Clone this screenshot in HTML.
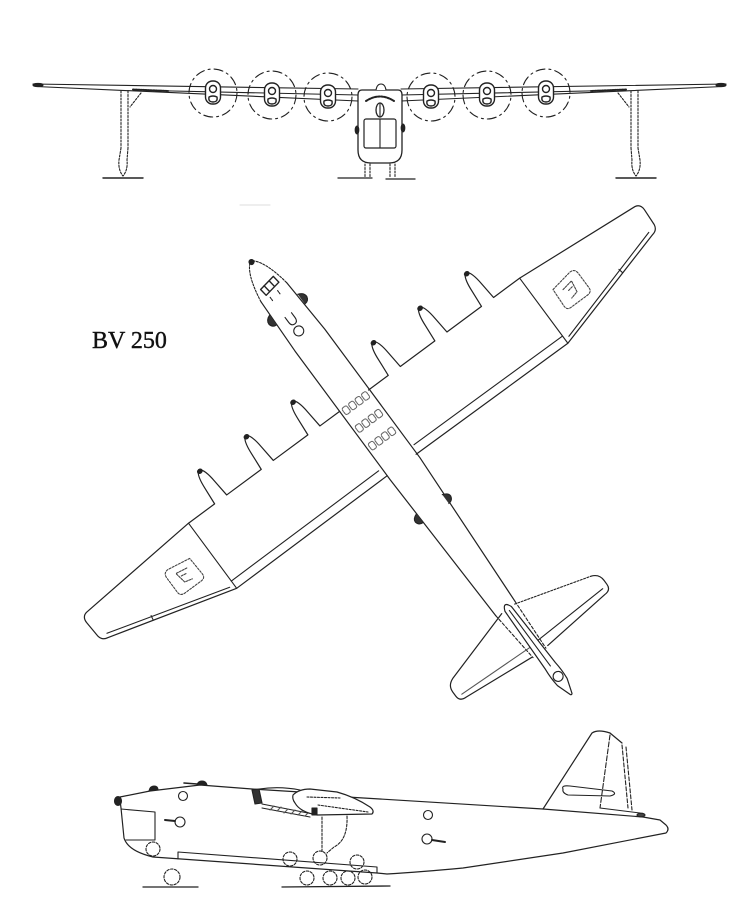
<!DOCTYPE html>
<html><head><meta charset="utf-8">
<style>html,body{margin:0;padding:0;background:#fff;}svg{display:block}</style>
</head>
<body>
<svg width="750" height="922" viewBox="0 0 750 922" xmlns="http://www.w3.org/2000/svg">
<rect width="750" height="922" fill="#fff"/>
<g fill="none" stroke="#222" stroke-width="1.1" stroke-linejoin="round" stroke-linecap="round">

<!-- ================= FRONT VIEW ================= -->
<g id="fvl">
  <path d="M33,84 L358,89"/>
  <path d="M36,86.5 L358,101"/>
  <path d="M150,90.5 L358,95"/>
  <ellipse cx="38" cy="85" rx="5" ry="1.6" fill="#222"/>
  <path d="M133,89.5 L168,91" stroke-dasharray="1.5 1" stroke-width="2"/>
  <!-- float strut -->
  <path d="M121,91 L121,148 M128,91 L128,148" stroke-dasharray="2 1.5"/>
  <path d="M121,148 L119,160 Q118,170 123,176 Q128,170 127,160 L128,148" stroke-dasharray="2 1.5"/>
  <path d="M141,93 L130,107" stroke-dasharray="2 1.5"/>
  <path d="M103,178 L143,178" stroke-width="1.4"/>
  <!-- propellers -->
  <circle cx="213" cy="93" r="24" stroke-dasharray="9 4 2 4"/>
  <circle cx="272" cy="95" r="24" stroke-dasharray="9 4 2 4"/>
  <circle cx="328" cy="97" r="24" stroke-dasharray="9 4 2 4"/>
  <!-- nacelles -->
  <g stroke-width="1.4">
    <rect x="205.5" y="81" width="15" height="23" rx="7" fill="#fff"/>
    <circle cx="213" cy="89" r="3.5"/>
    <path d="M209,97 Q213,95 217,97 Q218,102 213,102 Q208,102 209,97 Z"/>
    <rect x="264.5" y="83" width="15" height="23" rx="7" fill="#fff"/>
    <circle cx="272" cy="91" r="3.5"/>
    <path d="M268,99 Q272,97 276,99 Q277,104 272,104 Q267,104 268,99 Z"/>
    <rect x="320.5" y="85" width="15" height="23" rx="7" fill="#fff"/>
    <circle cx="328" cy="93" r="3.5"/>
    <path d="M324,101 Q328,99 332,101 Q333,106 328,106 Q323,106 324,101 Z"/>
  </g>
</g>
<use href="#fvl" transform="translate(759,0) scale(-1,1)"/>

<!-- fuselage front -->
<path d="M362,90 L398,90 Q402,90 402,95 L402,150 Q402,163 389,163 L371,163 Q358,163 358,150 L358,95 Q358,90 362,90 Z" fill="#fff" stroke-width="1.3"/>
<path d="M376,90 Q377,84 381,84 Q385,84 386,90" fill="#fff"/>
<path d="M366,101 Q380,92 394,101" stroke-dasharray="2 1.2" stroke-width="2"/>
<ellipse cx="380" cy="110" rx="4" ry="7" stroke-width="1.3"/>
<path d="M380,104 L380,116"/>
<rect x="364" y="119" width="32" height="29" rx="2" stroke-width="1.2"/>
<path d="M380,119 L380,148"/>
<ellipse cx="357" cy="130" rx="1.8" ry="4" fill="#222"/>
<ellipse cx="403" cy="128" rx="1.8" ry="4" fill="#222"/>
<path d="M365,164 L365,178 M370,164 L370,178 M390,164 L390,178 M395,164 L395,178" stroke-dasharray="2 1.5"/>
<path d="M338,178 L372,178 M386,179 L415,179" stroke-width="1.3"/>

<!-- faint mark -->
<path d="M240,205 L270,205" stroke="#ddd"/>

<!-- ================= PLAN VIEW ================= -->
<g transform="translate(250,260) rotate(-36.5)">
  <g id="rwing">
    <path d="M18,175 L42.5,175 L44,157 Q45,141 50,138 Q55,141 56,157 L57.5,175 L100.5,175 L102,157 Q103,141 108,138 Q113,141 114,157 L115.5,175 L158.5,175 L160,157 Q161,141 166,138 Q171,141 172,157 L173.5,175 L206,175 L341,186 Q347,187 347,194 L346,212 Q345,218 339,219 L206,256 L18,255" stroke-width="1.2"/>
    <ellipse cx="50" cy="140" rx="2.5" ry="2" fill="#222"/>
    <ellipse cx="108" cy="140" rx="2.5" ry="2" fill="#222"/>
    <ellipse cx="166" cy="140" rx="2.5" ry="2" fill="#222"/>
    <path d="M22,246 L206,247"/>
    <path d="M206,175 L206,256"/>
    <path d="M211,251 L337,215"/>
    <path d="M292,232 L291,227"/>
    <path d="M226,204 L250,200 Q256,200 256,206 L256,224 Q256,229 250,229 L230,229 Q225,229 225,224 Z" stroke-dasharray="2 1.5" stroke="#444"/>
    <path d="M234,210 L246,208 L244,220 L236,222 M238,214 L244,213" stroke-dasharray="2 1.2" stroke="#444"/>
  </g>
  <use href="#rwing" transform="scale(-1,1)"/>

  <!-- fuselage -->
  <path d="M-16,40 L-18,100 L-18,260 L-14,432" stroke-width="1.2"/>
  <path d="M16,40 L19,100 L19,260 L10,432" stroke-width="1.2"/>
  <path d="M-14,432 L-9,488 M10,432 L7,488" stroke-dasharray="3 2"/>
  <path d="M-16,40 Q-11,8 0,1 Q11,8 16,40" stroke-dasharray="2 1.5"/>
  <circle cx="0" cy="2.5" r="2.5" fill="#222"/>
  <!-- cockpit -->
  <path d="M-9,30 L9,27 M-9,30 L-8,38 M9,27 L10,35 M-8,38 L10,35 M-4,29 L-3,37 M3,28 L4,36" stroke-width="1.4"/>
  <path d="M-6,42 L-6,47 M4,41 L4,46" stroke-dasharray="1.5 1"/>
  <!-- blisters -->
  <path d="M-17,56 Q-23,58 -23,63 Q-22,68 -17,68" fill="#333"/>
  <path d="M18,56 Q24,58 24,63 Q23,68 18,68" fill="#333"/>
  <path d="M-17,303 Q-23,305 -23,309 Q-22,314 -17,314" fill="#333"/>
  <path d="M15,303 Q21,305 21,309 Q20,314 15,314" fill="#333"/>
  <!-- U + circle -->
  <path d="M-6,67 L-6,73 Q-6,78 -2,78 Q2,78 2,73 L2,67"/>
  <circle cx="-3" cy="86" r="5"/>
  <!-- windows -->
  <g stroke="#666" stroke-dasharray="1.5 1">
    <rect x="-15" y="174" width="6" height="8" rx="2"/><rect x="-7" y="174" width="6" height="8" rx="2"/>
    <rect x="1" y="174" width="6" height="8" rx="2"/><rect x="9" y="174" width="6" height="8" rx="2"/>
    <rect x="-15" y="196" width="6" height="8" rx="2"/><rect x="-7" y="196" width="6" height="8" rx="2"/>
    <rect x="1" y="196" width="6" height="8" rx="2"/><rect x="9" y="196" width="6" height="8" rx="2"/>
    <rect x="-15" y="218" width="6" height="8" rx="2"/><rect x="-7" y="218" width="6" height="8" rx="2"/>
    <rect x="1" y="218" width="6" height="8" rx="2"/><rect x="9" y="218" width="6" height="8" rx="2"/>
  </g>
  <!-- tailplane -->
  <path d="M-8,434 L-86,457 Q-94,460 -94,468 L-94,473 Q-94,480 -86,480 L-10,487" stroke-width="1.2"/>
  <path d="M8,434 L86,457" stroke-dasharray="2 1.5"/>
  <path d="M86,457 Q94,460 94,468 L94,473 Q94,480 86,480 L10,487" stroke-width="1.2"/>
  <path d="M5,477 L88,474"/>
  <path d="M-5,478 L-88,475" stroke="#555"/>
  <!-- fin / tail cone -->
  <path d="M-4,434 Q0,424 4,434 L6,505 Q7,515 6,525 L1,540 Q0,541 -1,540 L-6,525 Q-7,515 -6,505 Z" fill="#fff" stroke-width="1.2"/>
  <path d="M0,436 L0,505"/>
  <circle cx="0" cy="518" r="5"/>
</g>

<!-- ================= SIDE VIEW ================= -->
<path d="M120,797 L150,791 L200,785 L252,789 L300,792 L347,797" stroke-width="1.2"/>
<path d="M120,800 L121,808 L124,838 Q128,851 153,857 L377,873 L387,874 Q420,872 463,868 L563,853 L666,833 Q670,829 666,825 L660,820 L643,817 L543,809 L347,797" stroke-width="1.2"/>
<path d="M121,809 L155,812 L155,840 L126,840"/>
<path d="M178,859 L178,852 L377,867 L377,873"/>
<ellipse cx="118" cy="801" rx="3.5" ry="4.5" fill="#222"/>
<path d="M149,791 Q150,786 154,786 Q158,786 158,790" fill="#222"/>
<path d="M197,785 Q198,781 202,781 Q206,781 207,785" fill="#222"/>
<path d="M184,783 L197,784" stroke-width="1.5"/>
<circle cx="183" cy="796" r="4.5"/>
<circle cx="428" cy="815" r="4.5"/>
<circle cx="180" cy="822" r="5"/>
<path d="M165,820 L175,821" stroke-width="2"/>
<circle cx="427" cy="839" r="5"/>
<path d="M432,840 L445,842" stroke-width="2"/>
<!-- wing / nacelle -->
<path d="M252,790 L259,789 L262,803 L255,804 Z" fill="#333"/>
<path d="M259,789 Q280,786 300,790"/>
<path d="M262,804 L313,814"/>
<path d="M262,808 L310,817"/>
<path d="M270,810 L274,806 M277,811 L281,807 M284,813 L288,809 M291,814 L295,810 M298,815 L302,811 M305,816 L309,812" stroke="#555"/>
<path d="M293,795 Q299,789 310,789 L337,792 Q355,797 370,807 Q375,811 372,814 L317,815 Q300,812 295,803 Q292,799 293,795 Z" fill="#fff" stroke-width="1.2"/>
<path d="M307,797 L340,798 M318,805 L368,812" stroke-dasharray="2 1.5"/>
<rect x="312" y="808" width="5" height="7" fill="#222"/>
<path d="M322,817 L322,852 M347,816 Q348,840 334,847 L327,853" stroke-dasharray="2.5 1.5"/>
<g stroke-dasharray="2.5 1.5">
  <circle cx="153" cy="849" r="7"/>
  <circle cx="290" cy="859" r="7"/>
  <circle cx="320" cy="858" r="7"/>
  <circle cx="357" cy="862" r="7"/>
  <circle cx="172" cy="877" r="8"/>
  <circle cx="307" cy="878" r="7"/>
  <circle cx="330" cy="878" r="7"/>
  <circle cx="348" cy="878" r="7"/>
  <circle cx="365" cy="877" r="7"/>
</g>
<path d="M143,887 L198,887 M282,887 L390,886" stroke-width="1.3"/>
<!-- fin -->
<path d="M543,809 L592,733 Q598,729 610,733 L622,743" stroke-width="1.2"/>
<path d="M622,745 L628,808 M626,747 L632,810" stroke-dasharray="4 2"/>
<path d="M610,735 L600,808" stroke-dasharray="5 2"/>
<path d="M600,808 L640,813"/>
<path d="M563,789 Q561,785 570,786 L612,791 Q618,794 610,796 L568,795 Q562,793 563,789 Z"/>
<ellipse cx="641" cy="815" rx="4" ry="1.8" fill="#444"/>

</g>
<text x="92" y="348" font-family="Liberation Serif, serif" font-size="24" fill="#111" stroke="#111" stroke-width="0.4">BV 250</text>
</svg>
</body></html>
